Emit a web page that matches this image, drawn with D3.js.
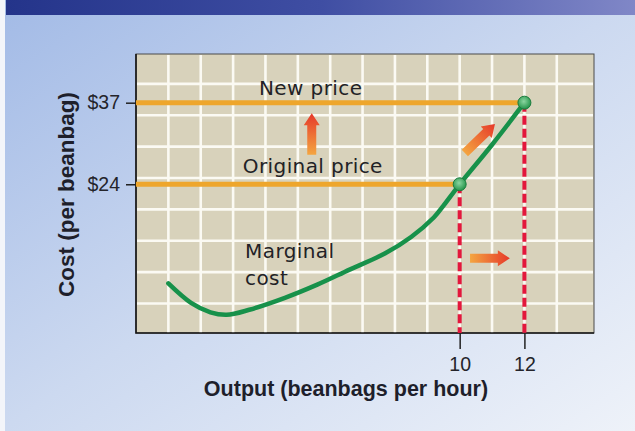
<!DOCTYPE html>
<html>
<head>
<meta charset="utf-8">
<script src="https://cdn.jsdelivr.net/npm/d3@7"></script>
<style>
  body { margin: 0; padding: 0; overflow: hidden; }
  svg { display: block; }
</style>
</head>
<body>
<script>
// data
const mcOutput = [1, 1.7, 2.3, 2.8, 3.5, 4.6, 5.6, 6.6, 7.7, 8.5, 9.2, 9.5, 10, 11, 12];
const mcCost = [8.2, 5.1, 3.6, 3.2, 4.0, 5.9, 8.0, 10.4, 13.0, 15.6, 18.7, 20.6, 24, 30.3, 37];

const priceNames = ["Original price", "New price"];
const priceLevels = [24, 37];
const priceOutput = [10, 12];

const xTicks = [10, 12];
const yTicks = [24, 37];
const yTickLabels = ["$24", "$37"];

// shift arrows: [output, cost] tail -> tip
const arrowTail = [[5.43, 28.7], [10.16, 29.0], [10.32, 12.2]];
const arrowTip = [[5.43, 35.3], [11.09, 33.6], [11.55, 12.2]];

const width = 635;
const height = 431;

const x = d3.scaleLinear().domain([0, 14.15]).range([136, 594]);
const y = d3.scaleLinear().domain([0.3, 44.76]).range([333, 54]);

const svg = d3
  .select("body")
  .append("svg")
  .attr("width", width)
  .attr("height", height);

const defs = svg.append("defs");

const bg = defs
  .append("linearGradient")
  .attr("id", "bg")
  .attr("x1", 0).attr("y1", 0).attr("x2", 1).attr("y2", 1);
bg.append("stop").attr("offset", 0).attr("stop-color", "#a2bae6");
bg.append("stop").attr("offset", 0.5).attr("stop-color", "#ccd9f0");
bg.append("stop").attr("offset", 1).attr("stop-color", "#eef2f9");

const band = defs
  .append("linearGradient")
  .attr("id", "band")
  .attr("x1", 0).attr("y1", 0).attr("x2", 1).attr("y2", 0);
band.append("stop").attr("offset", 0).attr("stop-color", "#24348a");
band.append("stop").attr("offset", 0.5).attr("stop-color", "#3f4ea3");
band.append("stop").attr("offset", 1).attr("stop-color", "#8087c7");

const dot = defs
  .append("radialGradient")
  .attr("id", "dot")
  .attr("cx", 0.45).attr("cy", 0.4).attr("r", 0.6);
dot.append("stop").attr("offset", 0).attr("stop-color", "#8bd6a0");
dot.append("stop").attr("offset", 1).attr("stop-color", "#239349");

// background
svg.append("rect").attr("width", width).attr("height", height).attr("fill", "url(#bg)");
svg.append("rect").attr("width", 5).attr("height", height).attr("fill", "#f3f5fa");
svg.append("rect").attr("x", 6).attr("width", width - 6).attr("height", 15).attr("fill", "url(#band)");

// plot area
const [x0, x1] = x.range();
const [yb, yt] = y.range();

svg
  .append("rect")
  .attr("x", x0)
  .attr("y", yt)
  .attr("width", x1 - x0)
  .attr("height", yb - yt)
  .attr("fill", "#d8d2bb")
  .attr("stroke", "#4a4a4a")
  .attr("stroke-width", 1);

svg
  .append("g")
  .selectAll("line")
  .data(d3.range(1, 14))
  .join("line")
  .attr("x1", d => x(d))
  .attr("x2", d => x(d))
  .attr("y1", yt + 1)
  .attr("y2", yb)
  .attr("stroke", "#fbfaf3")
  .attr("stroke-width", 2.6);

svg
  .append("g")
  .selectAll("line")
  .data(d3.range(5, 45, 5))
  .join("line")
  .attr("x1", x0 + 1)
  .attr("x2", x1 - 1)
  .attr("y1", d => y(d))
  .attr("y2", d => y(d))
  .attr("stroke", "#fbfaf3")
  .attr("stroke-width", 2.6);

// left and bottom frame
svg
  .append("path")
  .attr("d", `M${x0},${yt}V${yb}H${x1}`)
  .attr("fill", "none")
  .attr("stroke", "#161616")
  .attr("stroke-width", 1.6);

// price lines
svg
  .append("g")
  .selectAll("line")
  .data(priceLevels)
  .join("line")
  .attr("x1", x0)
  .attr("x2", (d, i) => x(priceOutput[i]))
  .attr("y1", d => y(d))
  .attr("y2", d => y(d))
  .attr("stroke", "#eea62c")
  .attr("stroke-width", 5);

// dashed drops to the output axis
svg
  .append("g")
  .selectAll("line")
  .data(priceOutput)
  .join("line")
  .attr("x1", d => x(d))
  .attr("x2", d => x(d))
  .attr("y1", (d, i) => y(priceLevels[i]))
  .attr("y2", yb)
  .attr("stroke", "#e3173c")
  .attr("stroke-width", 4)
  .attr("stroke-dasharray", "9,4");

// marginal cost curve
const line = d3
  .line()
  .x(d => x(d[0]))
  .y(d => y(d[1]))
  .curve(d3.curveCatmullRom.alpha(0.5));

svg
  .append("path")
  .datum(mcOutput.map((q, i) => [q, mcCost[i]]))
  .attr("d", line)
  .attr("fill", "none")
  .attr("stroke", "#17914a")
  .attr("stroke-width", 4.5)
  .attr("stroke-linecap", "round");

// arrows
arrowTail.forEach((t, i) => {
  const ax = x(t[0]), ay = y(t[1]);
  const bx = x(arrowTip[i][0]), by = y(arrowTip[i][1]);
  const len = Math.hypot(bx - ax, by - ay);
  const ang = (Math.atan2(by - ay, bx - ax) * 180) / Math.PI;
  const head = 12, w = 4.5, hw = 8;

  const g = defs
    .append("linearGradient")
    .attr("id", "arr" + i)
    .attr("gradientUnits", "userSpaceOnUse")
    .attr("x1", 0).attr("y1", 0).attr("x2", len).attr("y2", 0);
  g.append("stop").attr("offset", 0).attr("stop-color", "#f4a540");
  g.append("stop").attr("offset", 1).attr("stop-color", "#e6392a");

  svg
    .append("path")
    .attr("transform", `translate(${ax},${ay}) rotate(${ang})`)
    .attr(
      "d",
      `M0,${-w}L${len - head},${-w}L${len - head},${-hw}L${len},0L${len - head},${hw}L${len - head},${w}L0,${w}Z`
    )
    .attr("fill", `url(#arr${i})`);
});

// points
svg
  .append("g")
  .selectAll("circle")
  .data(priceOutput)
  .join("circle")
  .attr("cx", d => x(d))
  .attr("cy", (d, i) => y(priceLevels[i]))
  .attr("r", 6.5)
  .attr("fill", "url(#dot)")
  .attr("stroke", "#1b7d3e")
  .attr("stroke-width", 1);

// labels
const labels = svg
  .append("g")
  .attr("font-family", "'DejaVu Sans', Verdana, sans-serif")
  .attr("font-size", 20)
  .attr("letter-spacing", 0.4)
  .attr("fill", "#222226");

labels.append("text").attr("x", x(3.8)).attr("y", y(priceLevels[1]) - 8).text(priceNames[1]);
labels.append("text").attr("x", x(3.3)).attr("y", y(priceLevels[0]) - 11).text(priceNames[0]);
labels.append("text").attr("x", x(3.37)).attr("y", y(12.2)).text("Marginal");
labels.append("text").attr("x", x(3.37)).attr("y", y(8.0)).text("cost");

// axes
const narrow = "'Liberation Sans Narrow', 'Arial Narrow', 'Liberation Sans', sans-serif";

const yAxis = svg
  .append("g")
  .attr("transform", `translate(${x0},0)`)
  .call(
    d3.axisLeft(y)
      .tickValues(yTicks)
      .tickFormat((d, i) => yTickLabels[i])
      .tickSize(10)
      .tickPadding(6)
  );

const xAxis = svg
  .append("g")
  .attr("transform", `translate(0,${yb})`)
  .call(d3.axisBottom(x).tickValues(xTicks).tickSize(16).tickPadding(8));

[yAxis, xAxis].forEach(a => {
  a.select(".domain").remove();
  a.selectAll(".tick line").attr("stroke", "#222").attr("stroke-width", 1.5);
  a.selectAll(".tick text")
    .attr("font-family", narrow)
    .attr("font-size", 19.5)
    .attr("fill", "#24242a");
});

svg
  .append("text")
  .attr("x", 346)
  .attr("y", 395.5)
  .attr("text-anchor", "middle")
  .attr("font-family", "'Liberation Sans', Arial, sans-serif")
  .attr("font-weight", "bold")
  .attr("font-size", 21.5)
  .attr("fill", "#1e1f2b")
  .text("Output (beanbags per hour)");

svg
  .append("text")
  .attr("transform", "translate(74,194.5) rotate(-90)")
  .attr("text-anchor", "middle")
  .attr("font-family", "'Liberation Sans', Arial, sans-serif")
  .attr("font-weight", "bold")
  .attr("font-size", 22.5)
  .attr("fill", "#1e1f2b")
  .text("Cost (per beanbag)");
</script>
</body>
</html>
